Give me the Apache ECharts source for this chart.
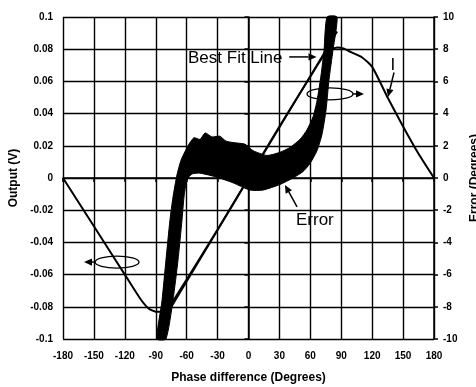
<!DOCTYPE html>
<html>
<head>
<meta charset="utf-8">
<title>Output and error vs phase difference</title>
<script src="https://cdn.jsdelivr.net/npm/echarts@6/dist/echarts.min.js"></script>
<style>
  html, body { margin: 0; padding: 0; background: #fff; }
  #chart { width: 476px; height: 387px; }
</style>
</head>
<body>
<div id="chart"></div>
<script>
// detector output (V), the "I" curve
var outPhase = [-180, -150, -120, -105, -97, -90, -84, -78, -60, -30, 0, 30, 60, 72, 80, 86, 92, 100, 110, 120, 135, 150, 165, 180];
var outVolt = [0, -0.030, -0.060, -0.075, -0.081, -0.083, -0.083, -0.081, -0.063, -0.032, 0, 0.032, 0.063, 0.075, 0.0795, 0.081, 0.0805, 0.078, 0.075, 0.069, 0.050, 0.032, 0.015, 0];

// best fit line (V)
var fitPhase = [-86, 86];
var fitVolt = [-0.092, 0.091];

// error (degrees), outline of the noisy band: upper edge left->right, then lower edge back
var errPhase = [-88.8, -83.9, -80.1, -76.2, -73.3, -69.4, -65.5, -58.7, -53, -47.1, -42, -35.4, -28, -22, -15, -3.4, 4.4, 18, 30.6, 40.3, 50, 56.8, 62.6, 66.5, 70.4, 73.3, 76.2,
                85.9, 82, 78.1, 75.2, 71.3, 66.5, 59.7, 52.9, 43.2, 30.6, 14.1, 1.5, -15, -30.6, -47.1, -54.8, -59.7, -62.6, -64.5, -68.4, -73.3, -80.1];
var errDeg = [-10, -7.6, -5.1, -2.6, -1.2, 0.2, 1.1, 2.0, 2.5, 2.4, 2.8, 2.55, 2.6, 2.3, 2.2, 2.1, 1.7, 1.4, 1.6, 1.9, 2.4, 3.0, 3.8, 4.8, 6.4, 7.95, 10,
              10, 7.95, 6.1, 4.2, 2.7, 1.7, 0.9, 0.4, 0, -0.4, -0.75, -0.75, -0.3, 0.05, 0.3, 0.25, -0.1, -1.2, -2.6, -5.1, -7.6, -10];

function zip(a, b) {
  return a.map(function (v, i) { return [v, b[i]]; });
}
var outData = zip(outPhase, outVolt);
var fitData = zip(fitPhase, fitVolt);
var errBand = zip(errPhase, errDeg);

var font = '"Liberation Sans", Arial, sans-serif';
var labelStyle = { color: '#000', fontFamily: font, fontWeight: 'bold', fontSize: 10 };
var nameStyle = { color: '#000', fontFamily: font, fontWeight: 'bold', fontSize: 12 };

var chart = echarts.init(document.getElementById('chart'));

var option = {
  backgroundColor: '#fff',
  animation: false,
  grid: { left: 63, right: 42, top: 17, bottom: 48, containLabel: false, outerBoundsMode: 'none' },
  xAxis: {
    type: 'value',
    min: -180,
    max: 180,
    interval: 30,
    name: 'Phase difference (Degrees)',
    nameLocation: 'middle',
    nameGap: 33,
    nameTextStyle: nameStyle,
    axisLine: { lineStyle: { color: '#000', width: 1.5 } },
    axisTick: { length: 4, lineStyle: { color: '#000', width: 1.5 } },
    axisLabel: Object.assign({ margin: 12 }, labelStyle),
    splitLine: { lineStyle: { color: '#000', width: 1.4 } }
  },
  yAxis: [
    {
      type: 'value',
      min: -0.1,
      max: 0.1,
      interval: 0.02,
      name: 'Output (V)',
      nameLocation: 'middle',
      nameGap: 43,
      nameTextStyle: nameStyle,
      axisLine: { show: true, lineStyle: { color: '#000', width: 1.5 } },
      axisTick: { show: true, length: 4, lineStyle: { color: '#000', width: 1.5 } },
      axisLabel: Object.assign({ margin: 10 }, labelStyle),
      splitLine: { lineStyle: { color: '#000', width: 1.4 } }
    },
    {
      type: 'value',
      min: -10,
      max: 10,
      interval: 2,
      position: 'right',
      name: 'Error (Degrees)',
      nameLocation: 'middle',
      nameRotate: 90,
      nameGap: 33,
      nameTextStyle: nameStyle,
      axisLine: { show: true, lineStyle: { color: '#000', width: 1.5 } },
      axisTick: { show: true, length: 4, lineStyle: { color: '#000', width: 1.5 } },
      axisLabel: Object.assign({ margin: 9 }, labelStyle),
      splitLine: { show: false }
    }
  ],
  series: [
    {
      name: 'Output',
      type: 'line',
      data: outData,
      symbol: 'none',
      smooth: 0.2,
      lineStyle: { color: '#000', width: 2 },
      z: 2
    },
    {
      name: 'Best Fit Line',
      type: 'line',
      data: fitData,
      symbol: 'none',
      lineStyle: { color: '#000', width: 1.8 },
      z: 2
    },
    {
      name: 'Error',
      type: 'custom',
      yAxisIndex: 1,
      data: errBand,
      encode: { x: 0, y: 1 },
      renderItem: function (params, api) {
        if (params.dataIndex !== 0) return null;
        var pts = errBand.map(function (d) { return api.coord(d); });
        return {
          type: 'polygon',
          shape: { points: pts, smooth: 0.2 },
          style: { fill: '#000', stroke: '#000', lineWidth: 1 }
        };
      },
      z: 3
    }
  ]
};

chart.setOption(option);

// annotations, anchored in data units of the output axis
function px(p, v) {
  return chart.convertToPixel({ xAxisIndex: 0, yAxisIndex: 0 }, [p, v]);
}
function arrow(a, b, size) {
  var dx = b[0] - a[0], dy = b[1] - a[1];
  var len = Math.sqrt(dx * dx + dy * dy);
  var ux = dx / len, uy = dy / len;
  var s = size || 8, w = s * 0.45;
  var base = [b[0] - ux * s, b[1] - uy * s];
  return [
    { type: 'line', shape: { x1: a[0], y1: a[1], x2: base[0], y2: base[1] },
      style: { stroke: '#000', lineWidth: 1.5 }, z: 10 },
    { type: 'polygon', shape: { points: [b, [base[0] - uy * w, base[1] + ux * w], [base[0] + uy * w, base[1] - ux * w]] },
      style: { fill: '#000' }, z: 10 }
  ];
}
function label(text, p, align) {
  return {
    type: 'text', x: p[0], y: p[1], z: 10,
    style: { text: text, fill: '#000', font: '17px ' + font, align: align || 'left', verticalAlign: 'middle' }
  };
}
function loop(c, rx, ry, dir) {
  var start = [c[0] + dir * rx, c[1]];
  return [
    { type: 'ellipse', shape: { cx: c[0], cy: c[1], rx: rx, ry: ry },
      style: { fill: 'none', stroke: '#000', lineWidth: 1.3 }, z: 10 }
  ].concat(arrow(start, [start[0] + dir * 11, start[1]], 8));
}

var g = [];
g.push(label('Best Fit Line', px(-58.7, 0.0745)));
g = g.concat(arrow(px(39.5, 0.0752), px(66, 0.0752), 8));
g.push(label('Error', px(46.1, -0.026)));
g = g.concat(arrow(px(47.1, -0.018), px(35.4, -0.0043), 8));
g.push(label('I', px(140.2, 0.070), 'center'));
g = g.concat(arrow(px(141.2, 0.0655), px(135.4, 0.0503), 8));
g = g.concat(loop(px(79.1, 0.0522), 23, 6, 1));
g = g.concat(loop(px(-127.6, -0.0522), 22, 6, -1));

chart.setOption({ graphic: g });
</script>
</body>
</html>
